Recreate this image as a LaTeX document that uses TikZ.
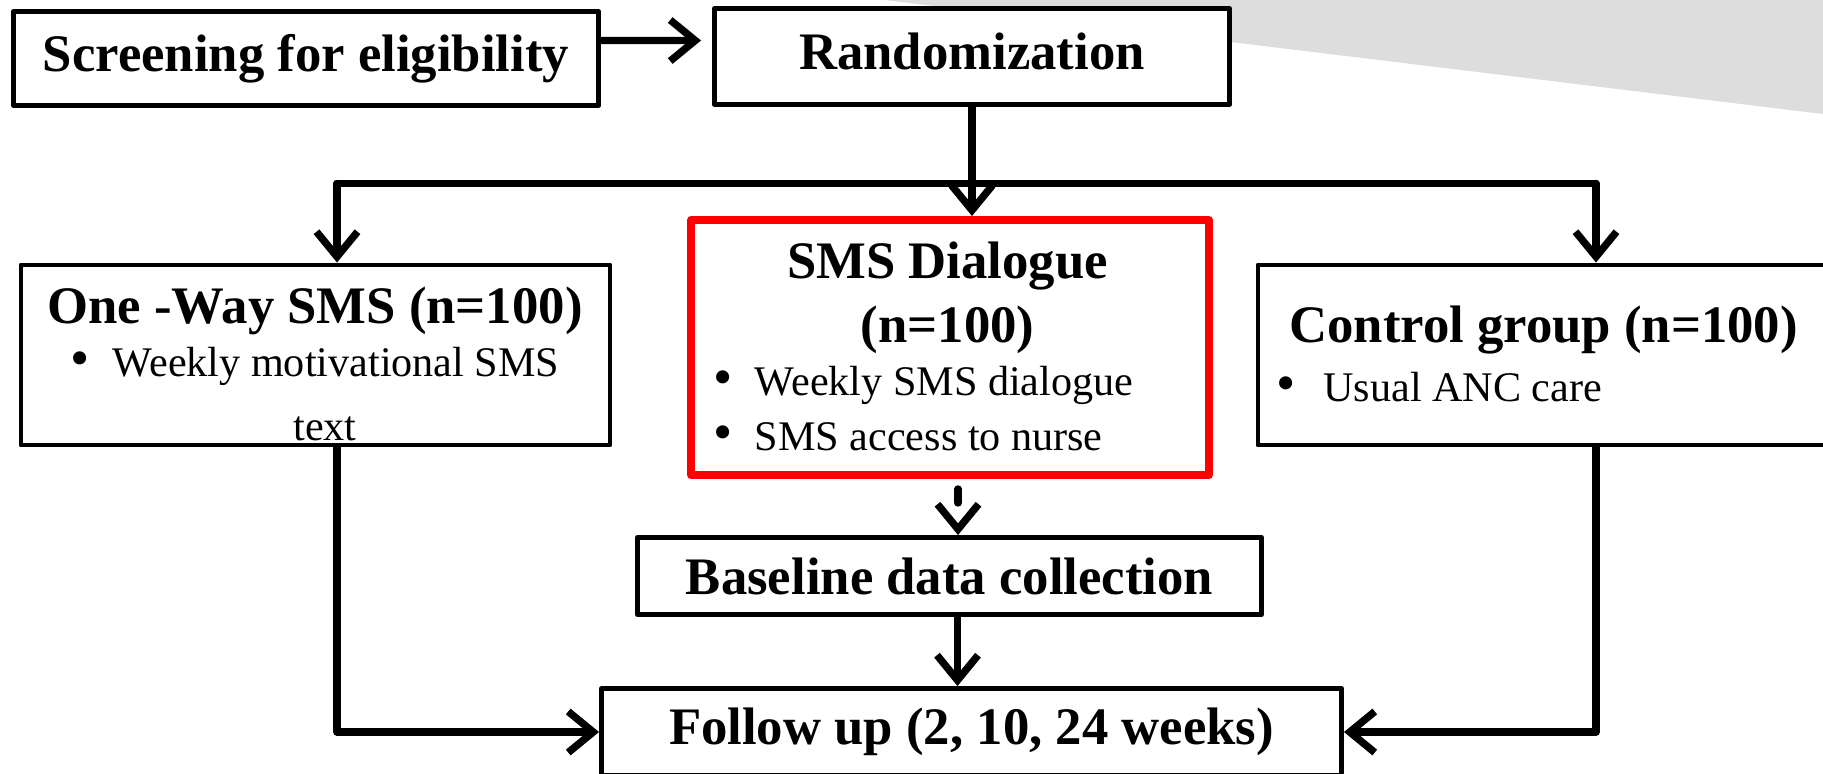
\documentclass[tikz,border=0pt]{standalone}
\usepackage{fontspec}
\setmainfont{Liberation Serif}
\usetikzlibrary{arrows.meta}
\definecolor{panel}{HTML}{DDDDDD}

\begin{document}
\begin{tikzpicture}[line cap=round,line join=round,
  box/.style={draw,line width=2.8pt,fill=white,inner sep=0pt},
  hd/.style={font=\fontsize{30}{36.5}\selectfont\bfseries,inner sep=0pt,align=center},
  item/.style={font=\fontsize{24}{29}\selectfont,inner sep=0pt,anchor=west},
  wire/.style={line width=4.2pt},
  conn/.style={wire,-{Straight Barb[length=0.5cm,width=0.82cm]}}]
  \useasboundingbox (0,0) rectangle (36.46,-15.46);
  % 右上灰色斜块
  \fill[panel] (17.70,0) -- (36.46,0) -- (36.46,-2.28) -- cycle;
  % 上排
  \node[box,hd,minimum width=11.71cm,minimum height=1.87cm] (screen) at (6.12,-1.17) {Screening for eligibility};
  \node[box,hd,text depth=0.2cm,minimum width=10.30cm,minimum height=1.92cm] (rand) at (19.44,-1.13) {Randomization};
  % 三组
  \node[box,minimum width=11.78cm,minimum height=3.60cm] (oneway) at (6.31,-7.10) {};
  \node[hd] (onewayhd) at (6.30,-6.22) {One -Way SMS (n=100)};
  \node[item] (onewayi) at (1.40,-7.32) {\makebox[0.85cm][l]{\scalebox{1.3}{\textbullet}}Weekly motivational SMS};
  \node[item,anchor=center] (onewayii) at (6.50,-8.58) {text};
  \node[box,draw=red,line width=4.5pt,minimum width=10.35cm,minimum height=5.10cm] (sms) at (19.00,-6.95) {};
  \node[hd] (smshd) at (18.95,-5.96) {SMS Dialogue\\(n=100)};
  \node[item] (smsi) at (14.26,-7.70) {\makebox[0.83cm][l]{\scalebox{1.3}{\textbullet}}Weekly SMS dialogue};
  \node[item] (smsii) at (14.26,-8.74) {\makebox[0.83cm][l]{\scalebox{1.3}{\textbullet}}SMS access to nurse};
  \node[box,minimum width=11.40cm,minimum height=3.60cm] (control) at (30.86,-7.10) {};
  \node[hd] (controlhd) at (30.87,-6.60) {Control group (n=100)};
  \node[item] (controli) at (25.52,-7.74) {\makebox[0.94cm][l]{\scalebox{1.3}{\textbullet}}Usual ANC care};
  % 下排
  \node[box,hd,minimum width=12.48cm,minimum height=1.54cm] (base) at (18.99,-11.52) {Baseline data collection};
  \node[box,hd,minimum width=14.80cm,minimum height=1.74cm] (follow) at (19.43,-14.64) {Follow up (2, 10, 24 weeks)};
  % 连线
  \coordinate (lt) at (6.74,-3.67);
  \coordinate (rt) at (31.92,-3.67);
  \draw[conn,shorten >=0.22cm] ([yshift=0.36cm]screen.east) -- ([yshift=0.32cm]rand.west);
  \draw[wire] (lt) -- (rt);
  \draw[conn] (rand.south) -- (rand.south |- sms.north);
  \draw[conn] (lt) -- (lt |- oneway.north);
  \draw[conn] (rt) -- (rt |- control.north);
  \draw[conn,dash pattern=on 0.28cm off 0.6cm,dash phase=0.68cm] ([xshift=0.16cm]sms.south) -- ([xshift=0.16cm]sms.south |- base.north);
  \draw[conn] ([xshift=0.16cm]base.south) -- ([xshift=0.16cm]base.south |- follow.north);
  \draw[conn] (lt |- oneway.south) |- (follow.west);
  \draw[conn] (rt |- control.south) |- (follow.east);
\end{tikzpicture}
\end{document}
